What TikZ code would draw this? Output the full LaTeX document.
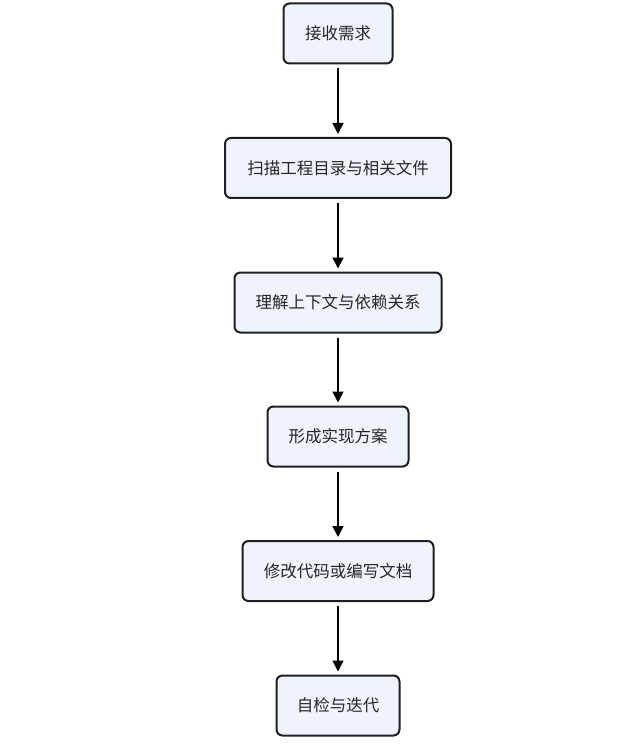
\documentclass[tikz,border=0pt]{standalone}
\usepackage{fontspec}
\setmainfont{Noto Sans CJK SC}
\usetikzlibrary{arrows.meta}
\begin{document}
\begin{tikzpicture}[x=1pt,y=-1pt,
  stepbox/.style={draw=black!88, line width=2pt, rounded corners=6pt, fill={rgb,255:red,239;green,243;blue,252},
    minimum height=60pt, inner sep=0pt, font=\fontsize{16.5}{18}\selectfont, text=black!85},
  flow/.style={line width=1.6pt, draw=black, -{Triangle[length=11pt,width=11pt]}, shorten <=4pt, shorten >=3pt}]
\useasboundingbox (0,0) rectangle (618,751);
\node[stepbox, minimum width=109pt] (a) at (338,33.5) {接收需求};
\node[stepbox, minimum width=226pt] (b) at (338,168) {扫描工程目录与相关文件};
\node[stepbox, minimum width=207pt] (c) at (338,302.5) {理解上下文与依赖关系};
\node[stepbox, minimum width=141pt] (d) at (338,436.5) {形成实现方案};
\node[stepbox, minimum width=191pt] (e) at (338,571) {修改代码或编写文档};
\node[stepbox, minimum width=123pt] (f) at (338,705.5) {自检与迭代};
\draw[flow] (a) -- (b);
\draw[flow] (b) -- (c);
\draw[flow] (c) -- (d);
\draw[flow] (d) -- (e);
\draw[flow] (e) -- (f);
\end{tikzpicture}
\end{document}
